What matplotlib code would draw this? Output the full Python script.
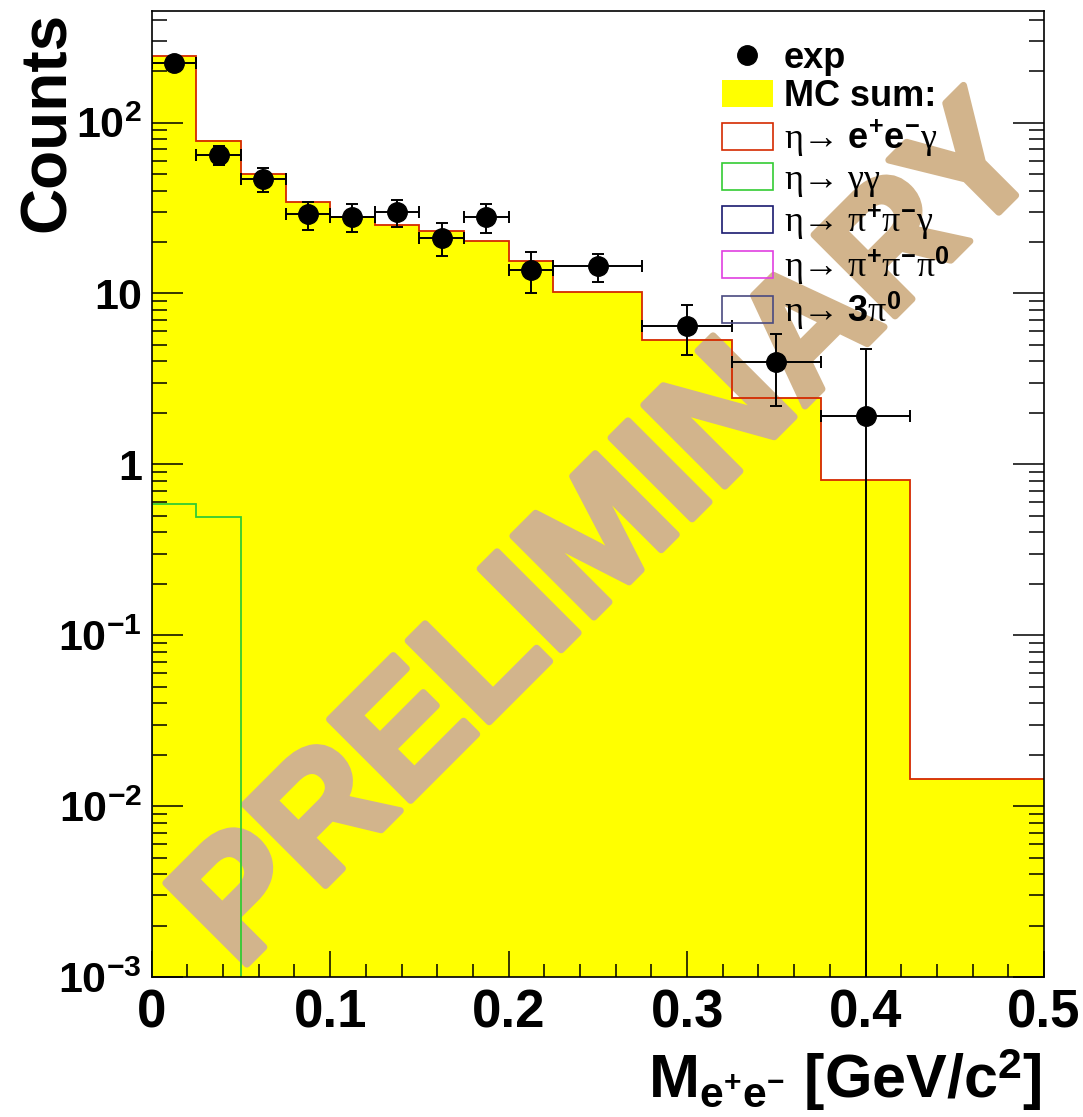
import matplotlib
matplotlib.use('Agg')
import matplotlib.pyplot as plt
from matplotlib.lines import Line2D
from matplotlib.patches import Patch
import matplotlib.ticker as mticker
import matplotlib.patheffects as pe

plt.rcParams['font.family'] = ['Liberation Sans', 'DejaVu Sans']
plt.rcParams['mathtext.fontset'] = 'custom'
plt.rcParams['mathtext.rm'] = 'Liberation Serif'
plt.rcParams['mathtext.it'] = 'Liberation Serif:italic'
plt.rcParams['mathtext.bf'] = 'Liberation Sans:bold'
plt.rcParams['mathtext.sf'] = 'Liberation Sans'

# ---------------- data ----------------
bin_edges = [0.0, 0.025, 0.05, 0.075, 0.1, 0.125, 0.15, 0.175, 0.2, 0.225,
             0.275, 0.325, 0.375, 0.425, 0.5]
mc_sum = [246, 78.8, 49.8, 34.5, 28.2, 25.2, 23.3, 20.4, 15.5, 10.2,
          5.33, 2.45, 0.807, 0.0145]
ee_gamma = [245, 78.3, 49.8, 34.5, 28.2, 25.2, 23.3, 20.4, 15.5, 10.2,
            5.33, 2.45, 0.807, 0.0145]
gg_edges = [0.0, 0.025, 0.05]
gg_vals = [0.59, 0.49]

exp_x = [0.0125, 0.0375, 0.0625, 0.0875, 0.1125, 0.1375, 0.1625, 0.1875,
         0.2125, 0.25, 0.3, 0.35, 0.4]
exp_xerr = [0.0125, 0.0125, 0.0125, 0.0125, 0.0125, 0.0125, 0.0125, 0.0125,
            0.0125, 0.025, 0.025, 0.025, 0.025]
exp_y = [222, 64.9, 46.9, 29.0, 28.2, 29.9, 21.1, 27.9, 13.7, 14.4, 6.46, 3.99, 1.91]
exp_yerr = [15, 8.5, 7.5, 5.4, 5.3, 5.5, 4.6, 5.3, 3.7, 2.7, 2.1, 1.8, 2.8]

xtick_vals = [0.0, 0.1, 0.2, 0.3, 0.4, 0.5]
xtick_labels = ['0', '0.1', '0.2', '0.3', '0.4', '0.5']
ytick_vals = [1e-3, 1e-2, 1e-1, 1, 10, 100]
ytick_labels = [r'$\mathbf{10^{-3}}$', r'$\mathbf{10^{-2}}$', r'$\mathbf{10^{-1}}$',
                '1', '10', r'$\mathbf{10^{2}}$']

legend_labels = ['exp', 'MC sum:',
                 r'$\mathrm{\eta→}\ \mathbf{e^{+}e^{-}}\mathrm{\gamma}$',
                 r'$\mathrm{\eta→}\ \mathrm{\gamma\gamma}$',
                 r'$\mathrm{\eta→}\ \mathrm{\pi}^{\mathbf{+}}\mathrm{\pi}^{\mathbf{-}}\mathrm{\gamma}$',
                 r'$\mathrm{\eta→}\ \mathrm{\pi}^{\mathbf{+}}\mathrm{\pi}^{\mathbf{-}}\mathrm{\pi}^{\mathbf{0}}$',
                 r'$\mathrm{\eta→}\ \mathbf{3}\mathrm{\pi}^{\mathbf{0}}$']
component_colors = ['#d42a00', '#33cc33', '#1a1a70', '#e040e0', '#4a4a80']

W, H = 1083, 1117
fig = plt.figure(figsize=(W / 100, H / 100), dpi=100)
ax = fig.add_axes([151.7 / W, 1 - 977 / H, (1044 - 151.7) / W, (977 - 11) / H])

ax.stairs(mc_sum, bin_edges, fill=True, color='#ffff00', baseline=1e-6, zorder=1)
ax.stairs(ee_gamma, bin_edges, color=component_colors[0], lw=1.3, baseline=None, zorder=2)
ax.stairs(gg_vals, gg_edges, color=component_colors[1], lw=1.3, baseline=1e-6, zorder=2)

ax.errorbar(exp_x, exp_y, xerr=exp_xerr, yerr=exp_yerr, fmt='o', color='black',
            ms=14, capsize=4, elinewidth=1.4, capthick=1.4, zorder=4)

ax.set_yscale('log', nonpositive='clip')
ax.set_xlim(0, 0.5)
ax.set_ylim(1e-3, 450)

ax.xaxis.set_major_locator(mticker.FixedLocator(xtick_vals))
ax.xaxis.set_major_formatter(mticker.FixedFormatter(xtick_labels))
ax.xaxis.set_minor_locator(mticker.MultipleLocator(0.02))
ax.yaxis.set_major_locator(mticker.FixedLocator(ytick_vals))
ax.yaxis.set_major_formatter(mticker.FixedFormatter(ytick_labels))
ax.yaxis.set_minor_locator(mticker.LogLocator(base=10, subs=[2, 3, 4, 5, 6, 7, 8, 9], numticks=20))
ax.yaxis.set_minor_formatter(mticker.NullFormatter())

ax.tick_params(which='both', direction='in', top=False, right=True, width=1.1, color='black')
ax.tick_params(axis='y', which='major', length=22, labelsize=31, pad=7)
ax.tick_params(axis='y', which='minor', length=11)
ax.tick_params(axis='x', which='major', length=19, labelsize=38, pad=8)
ax.tick_params(axis='x', which='minor', length=9.5)
for lab in ax.get_xticklabels() + ax.get_yticklabels():
    lab.set_fontweight('bold')
for sp in ax.spines.values():
    sp.set_linewidth(1.2)

# watermark (drawn above the filled histogram, below lines and markers)
wm_color = '#d2b48c'
ax.text(239 / W, 1 - 972 / H, 'PRELIMINARY', rotation=45, rotation_mode='anchor',
        ha='left', va='baseline', fontsize=120, fontweight='bold', color=wm_color,
        zorder=1.5, transform=fig.transFigure, clip_on=False,
        path_effects=[pe.withStroke(linewidth=5, foreground=wm_color)])

handles = [Line2D([], [], marker='o', color='black', linestyle='none', markersize=14),
           Patch(facecolor='#ffff00', edgecolor='none')]
for c in component_colors:
    handles.append(Patch(facecolor='none', edgecolor=c, linewidth=1.2))
leg = ax.legend(handles, legend_labels, loc='upper left',
                bbox_to_anchor=(721.7 / W, 1 - 41 / H), bbox_transform=fig.transFigure,
                frameon=False, borderpad=0, borderaxespad=0, handlelength=1.42,
                handleheight=0.78, handletextpad=0.3, labelspacing=0.09,
                prop={'weight': 'bold', 'size': 26})
leg.set_zorder(6)

fig.text(48 / W, 1 - 12 / H, 'Counts', rotation=90, ha='center', va='top',
         fontsize=46, fontweight='bold')
fig.text(1042 / W, 1 - 1098 / H, r'$\mathbf{M_{e^{+}e^{-}}}$ [GeV/c$^{\mathbf{2}}$]',
         ha='right', va='baseline', fontsize=44, fontweight='bold')

fig.savefig('out.png', dpi=100)
